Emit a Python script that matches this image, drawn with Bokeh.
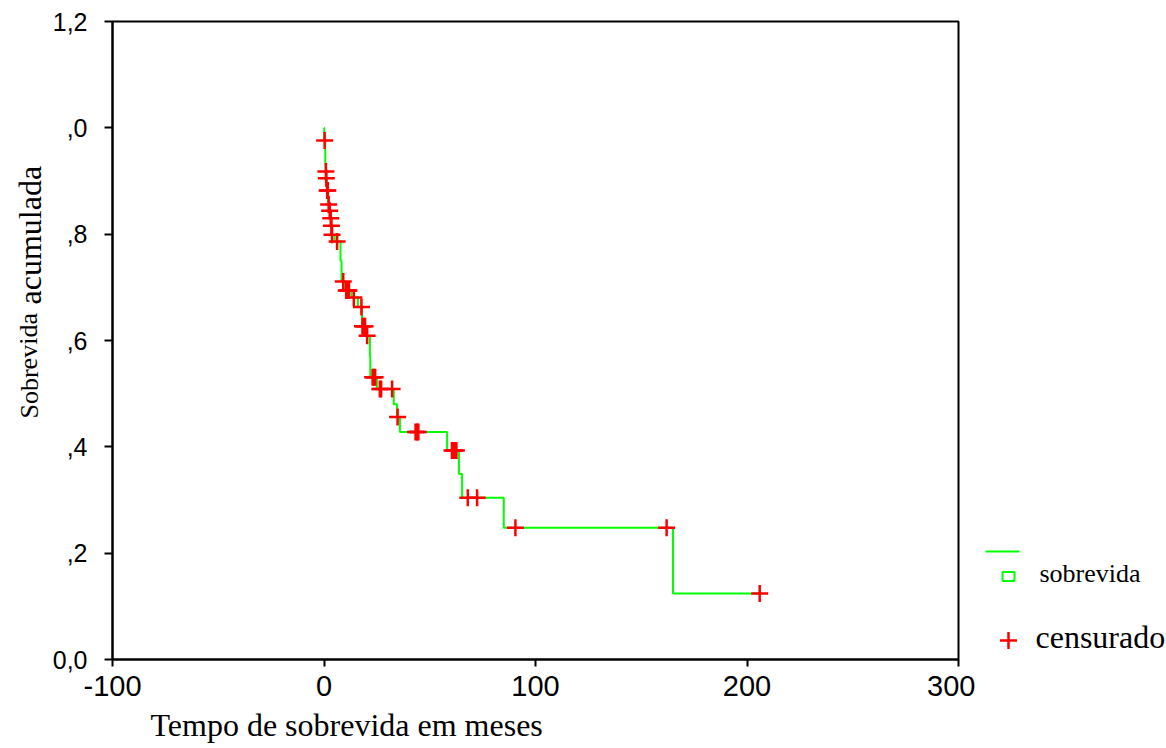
import math
from bokeh.plotting import figure
from bokeh.layouts import row
from bokeh.models import Range1d, FixedTicker, CustomJSTickFormatter, Title
from bokeh.core.properties import value
from bokeh.embed import file_html
from bokeh.resources import INLINE

# ---- data ----
km_time = [0, 0.1, 0.6, 0.8, 1.0, 1.3, 2.0, 2.5, 3.0, 3.4, 3.7, 5.0, 7.8, 8.3, 10, 13, 16, 18,
           20, 21.7, 21.9, 25, 33, 34.5, 35.9, 58.2, 63.8, 65.3, 85, 165, 206]
km_surv = [1.0, 0.976, 0.93, 0.918, 0.905, 0.882, 0.856, 0.844, 0.830, 0.816, 0.799, 0.786, 0.75,
           0.711, 0.694, 0.681, 0.663, 0.627, 0.609, 0.57, 0.531, 0.509, 0.48, 0.456, 0.428, 0.393,
           0.349, 0.304, 0.248, 0.124, 0.124]

cens_time = [0.3, 0.9, 1.1, 1.5, 1.8, 2.2, 2.7, 3.2, 3.5, 3.8, 6.2, 9.1, 10.5, 11.2, 11.8, 14.1,
             17.7, 18.2, 18.8, 19.4, 20.4, 23.0, 23.6, 24.2, 26.4, 27.0, 32.2, 34.8, 43.3, 44.0,
             44.6, 60.5, 61.2, 61.9, 62.6, 68, 72.4, 90.5, 162, 206]
cens_surv = [0.976, 0.918, 0.905, 0.882, 0.882, 0.856, 0.844, 0.830, 0.816, 0.799, 0.786, 0.711,
             0.694, 0.694, 0.694, 0.681, 0.663, 0.627, 0.627, 0.627, 0.609, 0.531, 0.531, 0.531,
             0.509, 0.509, 0.509, 0.456, 0.428, 0.428, 0.428, 0.393, 0.393, 0.393, 0.393, 0.304,
             0.304, 0.248, 0.248, 0.124]

x_ticks = [-100, 0, 100, 200, 300]
x_tick_labels = ["-100", "0", "100", "200", "300"]
y_ticks = [0.0, 0.2, 0.4, 0.6, 0.8, 1.0, 1.2]
y_tick_labels = ["0,0", ",2", ",4", ",6", ",8", ",0", "1,2"]

x_title = "Tempo de sobrevida em meses"
y_title_a = "Sobrevida"
y_title_b = "acumulada"
legend_line = "sobrevida"
legend_cens = "censurado"

GREEN = "#00ff00"
RED = "#ff0000"
H = 748
TOP, BOTTOM = 21, 89   # page borders above / below the plot frame
W0 = 48                # left strip (y title)
W1 = 927               # main plot
W2 = 1166 - W0 - W1    # right strip (legend)


def strip(width):
    # strip whose data units are page pixels (y measured upward from page bottom)
    f = figure(width=width, height=H, x_range=Range1d(0, width),
               y_range=Range1d(BOTTOM, H - TOP),
               output_backend="svg", toolbar_location=None, x_axis_type=None, y_axis_type=None,
               min_border_left=0, min_border_right=0, min_border_top=TOP,
               min_border_bottom=BOTTOM)
    f.grid.visible = False
    f.outline_line_color = None
    f.background_fill_color = "white"
    f.border_fill_color = "white"
    return f


# ---- left strip: y title ----
left = strip(W0)
left.text(x=[28.5], y=[H - 418], text=[y_title_a], angle=[math.pi / 2],
          text_font=value("Liberation Serif"), text_font_size="26px",
          text_align="left", text_baseline="middle", text_color="black")
left.text(x=[29.5], y=[H - 304], text=[y_title_b], angle=[math.pi / 2],
          text_font=value("Liberation Serif"), text_font_size="32px",
          text_align="left", text_baseline="middle", text_color="black")

# ---- main figure ----
p = figure(width=W1, height=H, x_range=Range1d(-100, 300), y_range=Range1d(0, 1.2),
           output_backend="svg", toolbar_location=None,
           min_border_left=112 - W0, min_border_right=17, min_border_top=TOP,
           min_border_bottom=BOTTOM)
p.grid.visible = False
p.outline_line_color = "black"
p.outline_line_width = 2
p.background_fill_color = "white"
p.border_fill_color = "white"

fmt_code = ("const i = tvals.findIndex(t => Math.abs(t - tick) < 1e-9); "
            "return i >= 0 ? tlabels[i] : '';")
p.xaxis.ticker = FixedTicker(ticks=x_ticks)
p.xaxis.formatter = CustomJSTickFormatter(args=dict(tvals=x_ticks, tlabels=x_tick_labels), code=fmt_code)
p.yaxis.ticker = FixedTicker(ticks=y_ticks)
p.yaxis.formatter = CustomJSTickFormatter(args=dict(tvals=y_ticks, tlabels=y_tick_labels), code=fmt_code)
for ax in (p.xaxis, p.yaxis):
    ax.axis_line_width = 2
    ax.axis_line_color = "black"
    ax.major_tick_line_width = 2
    ax.major_tick_line_color = "black"
    ax.major_tick_in = 0
    ax.minor_tick_line_color = None
    ax.major_label_text_font = "Liberation Sans"
    ax.major_label_text_color = "black"
p.xaxis.major_tick_out = 7
p.xaxis.major_label_standoff = 9
p.xaxis.major_label_text_font_size = "29px"
p.yaxis.major_tick_out = 8
p.yaxis.major_label_standoff = 17
p.yaxis.major_label_text_font_size = "25px"

p.add_layout(Title(text=x_title, align="left", offset=38, text_font="Liberation Serif",
                   text_font_size="32px", text_font_style="normal", text_color="black",
                   vertical_align="bottom", text_line_height=0.9, standoff=12), "below")

p.step(x=km_time, y=km_surv, mode="after", line_color=GREEN, line_width=2)
p.scatter(x=cens_time, y=cens_surv, marker="cross", size=17, line_color=RED, line_width=2.5)

# ---- right strip: legend ----
right = strip(W2)
ox = W0 + W1  # page x of the strip's left edge
right.segment(x0=[985 - ox], y0=[H - 551], x1=[1019 - ox], y1=[H - 551],
              line_color=GREEN, line_width=2)
right.rect(x=[1008 - ox], y=[H - 576], width=[12], height=[9], fill_color=None,
           line_color=GREEN, line_width=2)
right.text(x=[1039 - ox], y=[H - 573], text=[legend_line], text_font=value("Liberation Serif"),
           text_font_size="26px", text_baseline="alphabetic", text_color="black")
right.scatter(x=[1008 - ox], y=[H - 640], marker="cross", size=17, line_color=RED, line_width=2.5)
right.text(x=[1035 - ox], y=[H - 636], text=[legend_cens], text_font=value("Liberation Serif"),
           text_font_size="32px", text_baseline="alphabetic", text_color="black")

layout = row(left, p, right, spacing=0)
open("out.html", "w").write(file_html(layout, INLINE))
